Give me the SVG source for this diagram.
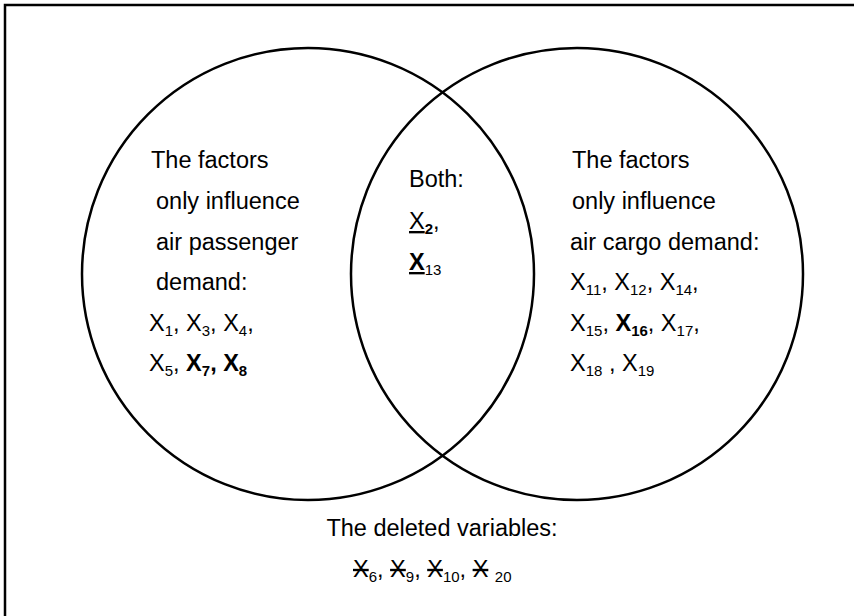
<svg xmlns="http://www.w3.org/2000/svg" width="854" height="616" viewBox="0 0 854 616">
<style>
text{font-family:"Liberation Sans",Arial,sans-serif;font-size:23.5px;fill:#000}
.s{font-size:15px}
.b{font-weight:bold}
.u{text-decoration:underline}
.st{text-decoration:line-through}
.shape{fill:none;stroke:#000;stroke-width:2.5}
</style>
<rect x="5" y="5" width="900" height="700" class="shape"/>
<g id="left-circle"><circle cx="308" cy="274" r="226" class="shape"/></g>
<g id="right-circle"><circle cx="577" cy="274" r="226" class="shape"/></g>
<g id="connectors"/>
<g id="left-text">
<text x="151" y="168">The factors</text>
<text x="156" y="209">only influence</text>
<text x="156" y="250">air passenger</text>
<text x="156" y="290">demand:</text>
<text x="149" y="331">X<tspan class="s" dy="5">1</tspan><tspan dy="-5">, X</tspan><tspan class="s" dy="5">3</tspan><tspan dy="-5">, X</tspan><tspan class="s" dy="5">4</tspan><tspan dy="-5">,</tspan></text>
<text x="149" y="371">X<tspan class="s" dy="5">5</tspan><tspan dy="-5">, </tspan><tspan class="b">X</tspan><tspan class="s b" dy="5">7</tspan><tspan class="b" dy="-5">, X</tspan><tspan class="s b" dy="5">8</tspan></text>
</g>
<g id="both-text">
<text x="409" y="187">Both:</text>
<text x="409" y="229"><tspan class="u">X</tspan><tspan class="s b" dy="5">2</tspan><tspan dy="-5">,</tspan></text>
<text x="409" y="270"><tspan class="b u">X</tspan><tspan class="s" dy="5">13</tspan></text>
</g>
<g id="right-text">
<text x="572" y="168">The factors</text>
<text x="572" y="209">only influence</text>
<text x="570" y="250">air cargo demand:</text>
<text x="570" y="290">X<tspan class="s" dy="5">11</tspan><tspan dy="-5">, X</tspan><tspan class="s" dy="5">12</tspan><tspan dy="-5">, X</tspan><tspan class="s" dy="5">14</tspan><tspan dy="-5">,</tspan></text>
<text x="570" y="331">X<tspan class="s" dy="5">15</tspan><tspan dy="-5">, </tspan><tspan class="b">X</tspan><tspan class="s b" dy="5">16</tspan><tspan dy="-5">, X</tspan><tspan class="s" dy="5">17</tspan><tspan dy="-5">,</tspan></text>
<text x="570" y="371">X<tspan class="s" dy="5">18</tspan><tspan dy="-5"> , X</tspan><tspan class="s" dy="5">19</tspan></text>
</g>
<g id="deleted-text">
<text x="442" y="536" text-anchor="middle">The deleted variables:</text>
<text x="353" y="577"><tspan class="st">X</tspan><tspan class="s" dy="5">6</tspan><tspan dy="-5">, </tspan><tspan class="st">X</tspan><tspan class="s" dy="5">9</tspan><tspan dy="-5">, </tspan><tspan class="st">X</tspan><tspan class="s" dy="5">10</tspan><tspan dy="-5">, </tspan><tspan class="st">X</tspan><tspan dy="5"> </tspan><tspan class="s">20</tspan></text>
</g>
</svg>
